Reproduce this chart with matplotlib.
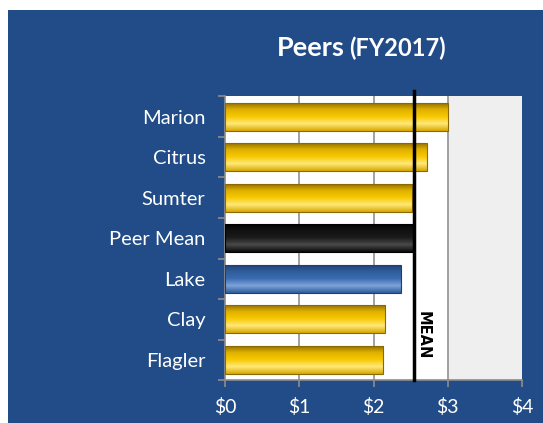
import numpy as np
import matplotlib
matplotlib.use('Agg')
import matplotlib.pyplot as plt
from matplotlib.patches import Rectangle
from matplotlib.colors import LinearSegmentedColormap

plt.rcParams['font.family'] = ['Lato', 'DejaVu Sans']

# data
counties = ['Marion', 'Citrus', 'Sumter', 'Peer Mean', 'Lake', 'Clay', 'Flagler']
values = [3.00, 2.72, 2.52, 2.54, 2.37, 2.16, 2.13]
kinds = ['peer', 'peer', 'peer', 'mean', 'home', 'peer', 'peer']
mean_value = 2.54
xticks = [0, 1, 2, 3, 4]
xlabels = ['$0', '$1', '$2', '$3', '$4']

blue_bg = '#214c87'
shades = {
    'peer': ['#8a6a00', '#e0b000', '#f7c800', '#ffe97a', '#d9a800'],
    'mean': ['#000000', '#111111', '#1a1a1a', '#4a4a4a', '#0a0a0a'],
    'home': ['#1f3f70', '#2f5c9c', '#3a6cb2', '#7ea3d8', '#2f5c9c'],
}

fig = plt.figure(figsize=(5.43, 4.23), dpi=100, facecolor='white')
fig.patches.append(Rectangle((8 / 543, 0), 1, 1 - 10 / 423, transform=fig.transFigure,
                             facecolor=blue_bg, edgecolor='none', zorder=-10))

ax = fig.add_axes([225 / 543, 1 - 380 / 423, 297 / 543, (380 - 96.5) / 423])
ax.set_facecolor('white')
ax.axvspan(3, 4, color='#efefef', zorder=0)
for x in [1, 2, 3]:
    ax.axvline(x, color='#9a9a9a', lw=1.3, zorder=1)

y = np.arange(len(counties))
bars = ax.barh(y, values, height=0.7, color='none', edgecolor='none', zorder=3)
for b, k in zip(bars, kinds):
    cmap = LinearSegmentedColormap.from_list(k, shades[k][::-1])
    grad = np.linspace(0, 1, 64).reshape(-1, 1)
    x0, y0 = b.get_x(), b.get_y()
    w, h = b.get_width(), b.get_height()
    im = ax.imshow(grad, cmap=cmap, aspect='auto', extent=(x0, x0 + w, y0 + h, y0),
                   origin='lower', zorder=3)
    im.set_clip_path(b)
    ax.add_patch(Rectangle((x0, y0), w, h, facecolor='none',
                           edgecolor=shades[k][0], lw=0.8, zorder=4))

ax.axvline(mean_value, ymin=0, ymax=1.02, color='black', lw=2.5, zorder=5, clip_on=False)
ax.text(mean_value + 0.13, 5.4, 'MEAN', rotation=270, ha='center', va='center',
        fontsize=10.5, fontweight='bold', color='black', family=['DejaVu Sans'], zorder=6)

ax.set_xlim(0, 4)
ax.set_ylim(6.46, -0.45)
ax.set_yticks(y)
ax.set_yticklabels(counties)
ax.set_yticks(np.arange(-0.5, 7, 1), minor=True)
ax.set_xticks(xticks)
ax.set_xticklabels(xlabels)
ax.tick_params(axis='y', which='major', length=0, pad=14, labelsize=14.5, labelcolor='white')
ax.tick_params(axis='y', which='minor', length=5, color='#8c8c8c', width=1.2)
ax.tick_params(axis='x', length=5, color='#8c8c8c', width=1.2, pad=8,
               labelsize=14, labelcolor='white')
for s in ['top', 'right']:
    ax.spines[s].set_visible(False)
for s in ['left', 'bottom']:
    ax.spines[s].set_color('#8c8c8c')
    ax.spines[s].set_linewidth(1.2)

fig.text(277 / 543, 1 - 56 / 423, 'Peers', fontsize=19.5, fontweight='bold', color='white',
         ha='left', va='baseline')
fig.text(349 / 543, 1 - 56 / 423, '(FY2017)', fontsize=17, fontweight='bold', color='white',
         ha='left', va='baseline')

fig.savefig('out.png', dpi=100, facecolor=fig.get_facecolor())
